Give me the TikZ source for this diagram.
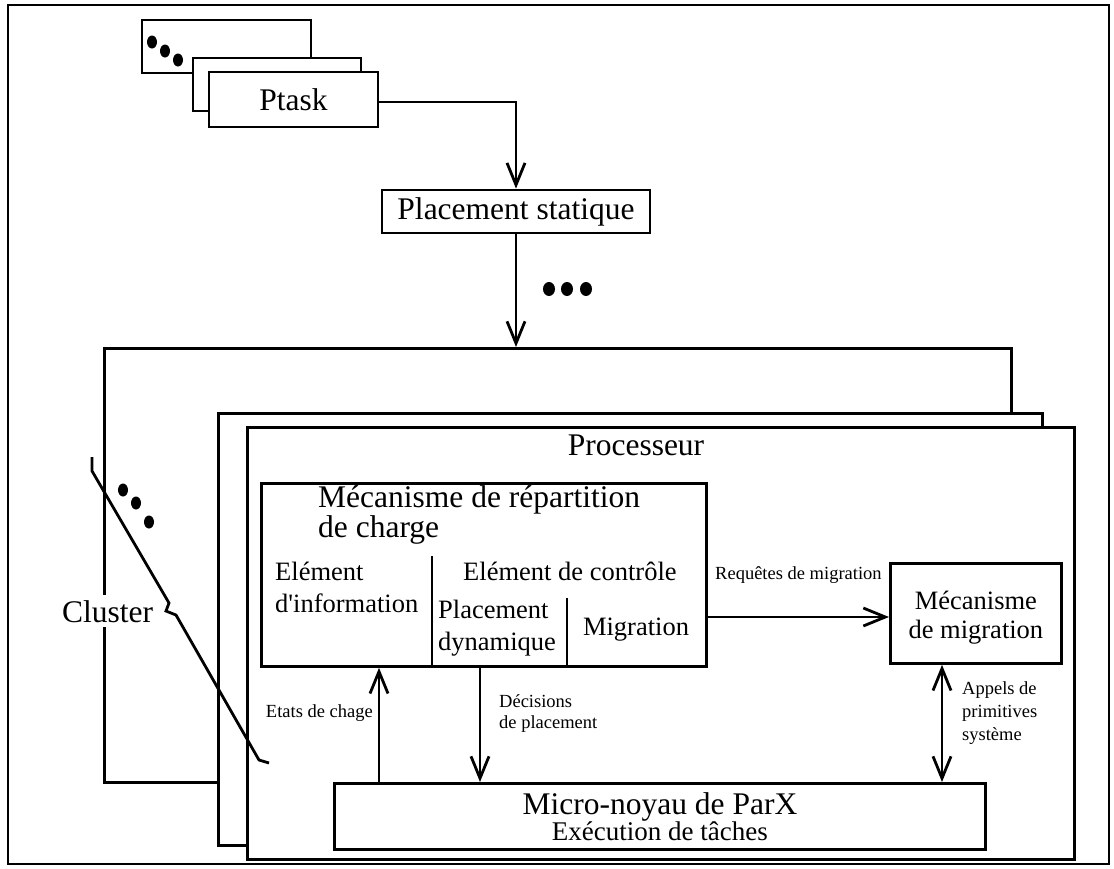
\documentclass[tikz,border=0pt]{standalone}
\usepackage{fontspec}
\setmainfont{Liberation Serif}
\usetikzlibrary{arrows.meta}
\begin{document}
\begin{tikzpicture}[x=1pt,y=-1pt,
  lw/.style={line width=2.8pt},
  box/.style={draw,line width=2.8pt,fill=white,inner sep=0pt},
  arr/.style={line width=2.8pt,-{Straight Barb[length=22pt,width=18pt]}},
  darr/.style={line width=2.8pt,{Straight Barb[length=22pt,width=18pt]}-{Straight Barb[length=22pt,width=18pt]}},
  big/.style={font=\fontsize{31.5}{30}\selectfont},
  mid/.style={font=\fontsize{26.5}{32}\selectfont},
  small/.style={font=\fontsize{18.5}{23}\selectfont},
  lbl/.style={inner sep=0pt}
]
\useasboundingbox (0,0) rectangle (1114,868);
\draw[lw] (8,5) rectangle (1109,864);

% Ptask stack
\draw[box] (142,20) rectangle (311,73);
\fill (152,42) ellipse [x radius=5, y radius=6.5];
\fill (165,51) ellipse [x radius=5, y radius=6.5];
\fill (178,60) ellipse [x radius=5, y radius=6.5];
\draw[box] (193,58) rectangle (361,111);
\node[box,big,minimum width=169pt,minimum height=55pt] (ptask) at (293.5,99.5) {Ptask};

\node[box,big,minimum width=268pt,minimum height=43pt] (ps) at (516,211.5) {Placement statique};
\draw[arr] ([yshift=-2.5pt]ptask.east) -| (ps.north);

\fill (549,289) ellipse [x radius=6, y radius=7];
\fill (567,289) ellipse [x radius=6, y radius=7];
\fill (586,289) ellipse [x radius=6, y radius=7];

% cluster stack
\node[box,minimum width=907pt,minimum height=434pt,anchor=north west] (cluster) at (103,347) {};
\draw[arr] (ps.south) -- (ps.south |- cluster.north);
\node[box,minimum width=824pt,minimum height=432pt,anchor=north west] (mid) at (217,412) {};
\node[box,minimum width=827pt,minimum height=432pt,anchor=north west] (proc) at (246,426) {};
\node[lbl,big,anchor=base] (proctxt) at (636,455) {Processeur};

% cluster label and brace
\node[lbl,big,fill=white,inner xsep=0pt,inner ysep=5pt,anchor=base west] (cl) at (62,622) {Cluster};
\draw[lw,line join=miter] (92,457) -- (92,471) -- (169,603) -- (166,611) -- (176,615) -- (259,760) -- (269,763);
\fill (123,490) ellipse [x radius=5, y radius=6.5];
\fill (136,503) ellipse [x radius=5, y radius=6.5];
\fill (149,522) ellipse [x radius=5, y radius=6.5];

% load balancing box
\node[box,minimum width=445pt,minimum height=183pt,anchor=north west] (lb) at (260,482) {};
\node[lbl,big,align=left,anchor=base west] (lbt) at (318,537) {Mécanisme de répartition\\de charge};
\coordinate (d1) at (432,556);
\coordinate (d2) at (567,598);
\draw[lw] (d1) -- (d1 |- lb.south);
\draw[lw] (d2) -- (d2 |- lb.south);
\node[lbl,mid,align=left,anchor=base west] (einf) at (275,612) {Elément\\d\textquotesingle information};
\node[lbl,mid,anchor=base west] (ectl) at (463,580) {Elément de contrôle};
\node[lbl,mid,align=left,anchor=base west] (pdyn) at (438,650) {Placement\\dynamique};
\node[lbl,mid,anchor=base] (migt) at (636,635) {Migration};

% migration mechanism
\node[box,minimum width=171pt,minimum height=100pt,anchor=north west] (mig) at (889,562) {};
\node[lbl,align=center,anchor=base,font=\fontsize{26.5}{29}\selectfont] (migtxt) at (mig.center |- 0,638) {Mécanisme\\de migration};
\coordinate (r) at (705,617);
\draw[arr] (r) -- (r -| mig.west);
\node[lbl,small,anchor=base west] (req) at (715,579) {Requêtes de migration};

% micro-kernel
\node[box,minimum width=651pt,minimum height=66pt,anchor=north west] (micro) at (333,782) {};
\node[lbl,anchor=base,font=\fontsize{31.5}{34}\selectfont] (m1) at (micro.center |- 0,814) {Micro-noyau de ParX};
\node[lbl,anchor=base,font=\fontsize{27}{30}\selectfont] (m2) at (micro.center |- 0,840) {Exécution de tâches};

\coordinate (e1) at (379,0);
\coordinate (e2) at (480,0);
\coordinate (e3) at (942,0);
\draw[arr] (e1 |- micro.north) -- (e1 |- lb.south);
\draw[arr] (e2 |- lb.south) -- (e2 |- micro.north);
\draw[darr] (e3 |- mig.south) -- (e3 |- micro.north);

\node[lbl,small,anchor=base east] (etats) at (373,717) {Etats de chage};
\node[lbl,small,align=left,anchor=base west,font=\fontsize{18.5}{21}\selectfont] (dec) at (499,728) {Décisions\\de placement};
\node[lbl,small,align=left,anchor=base west] (app) at (962,740) {Appels de\\primitives\\système};
\end{tikzpicture}
\end{document}
